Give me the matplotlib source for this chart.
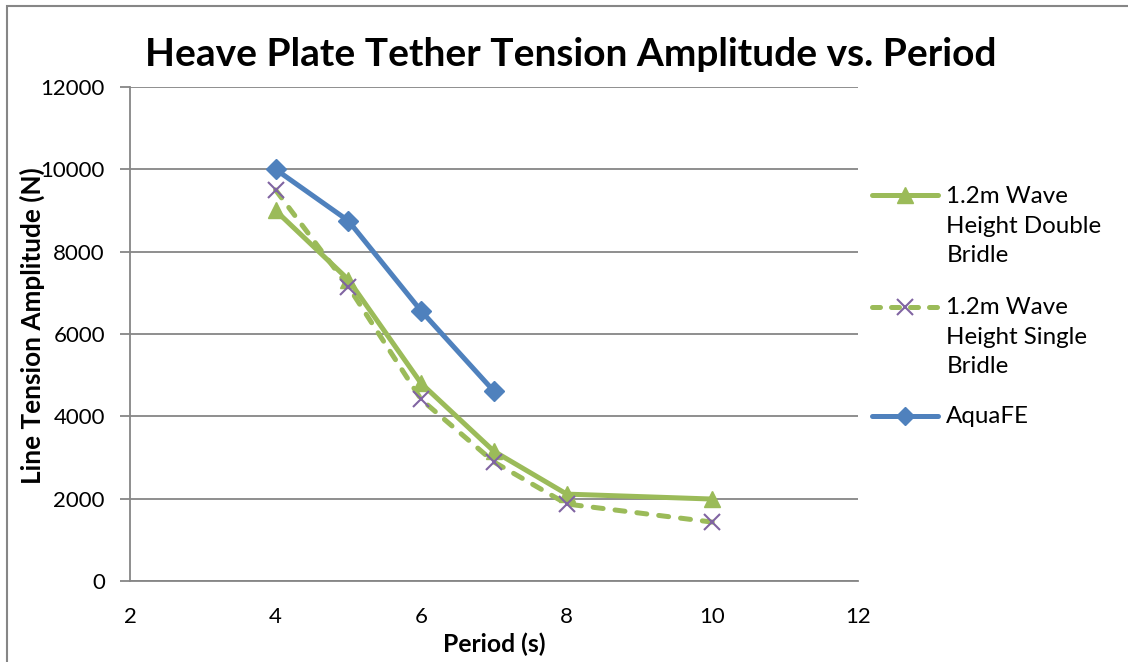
import matplotlib.pyplot as plt
from matplotlib.lines import Line2D
from matplotlib.patches import Rectangle

plt.rcParams['font.family'] = ['Lato', 'DejaVu Sans']

period = [4, 5, 6, 7, 8, 10]
double_bridle = [9000, 7320, 4800, 3150, 2110, 1990]
single_bridle = [9500, 7150, 4410, 2890, 1870, 1430]
aqua_period = [4, 5, 6, 7]
aquafe = [10000, 8750, 6560, 4610]

green = '#9BBB59'
blue = '#4F81BD'
purple = '#8064A2'
grid_gray = '#868686'
dash = (0, (2.0, 2.4))

fig = plt.figure(figsize=(11.28, 6.62), dpi=100)
ax = fig.add_axes([0.1152, 0.1224, 0.6454, 0.7462])

ax.plot(period, double_bridle, color=green, lw=3.6, marker='^', ms=12,
        mfc=green, mec=green, solid_joinstyle='round', zorder=3)
ax.plot(period, single_bridle, color=green, lw=3.6, ls=dash, dash_capstyle='round',
        marker='x', ms=12, mec=purple, mew=1.5, zorder=3)
ax.plot(aqua_period, aquafe, color=blue, lw=3.6, marker='D', ms=10,
        mfc=blue, mec=blue, solid_joinstyle='round', zorder=4)

ax.set_xlim(2, 12)
ax.set_ylim(0, 12000)
ax.set_xticks(range(2, 13, 2))
ax.set_yticks(range(0, 12001, 2000))
ax.yaxis.grid(True, color=grid_gray, lw=1.3)
ax.set_axisbelow(True)
for s in ['top', 'right']:
    ax.spines[s].set_visible(False)
for s in ['left', 'bottom']:
    ax.spines[s].set_color(grid_gray)
    ax.spines[s].set_linewidth(1.3)
ax.tick_params(axis='y', length=7, width=1.3, color=grid_gray, labelsize=16, pad=11)
ax.tick_params(axis='x', length=0, labelsize=16, pad=19)

ax.set_xlabel('Period (s)', fontsize=17.8, fontweight='bold', labelpad=4)
ax.set_ylabel('Line Tension Amplitude (N)', fontsize=18.8, fontweight='bold')
ax.yaxis.set_label_coords(-0.117, 0.516)
fig.text(0.506, 0.917, 'Heave Plate Tether Tension Amplitude vs. Period',
         ha='center', va='center', fontsize=28, fontweight='bold')

# legend drawn by hand so the key sits beside the first line of each label
entries = [
    ('1.2m Wave\nHeight Double\nBridle', dict(color=green, marker='^', ms=12), {}, 0.705),
    ('1.2m Wave\nHeight Single\nBridle', dict(color=green, marker='x', ms=12, mec=purple, mew=1.5),
     dict(ls=(0, (1.6, 2.2)), dash_capstyle='round'), 0.537),
    ('AquaFE', dict(color=blue, marker='D', ms=9), {}, 0.372),
]
for label, mstyle, lstyle, y in entries:
    fig.add_artist(Line2D([0.773, 0.832], [y, y], transform=fig.transFigure,
                          color=mstyle['color'], lw=3.6, solid_capstyle='round', **lstyle))
    fig.add_artist(Line2D([0.8025], [y], transform=fig.transFigure, lw=0, **mstyle))
    fig.text(0.839, y + 0.014, label, ha='left', va='top', fontsize=17.4,
             linespacing=1.5)

fig.add_artist(Rectangle((0.0062, -0.05), 1.2, 1.041, transform=fig.transFigure,
                         fill=False, ec=grid_gray, lw=1.5))

fig.savefig('out.png', dpi=100)
